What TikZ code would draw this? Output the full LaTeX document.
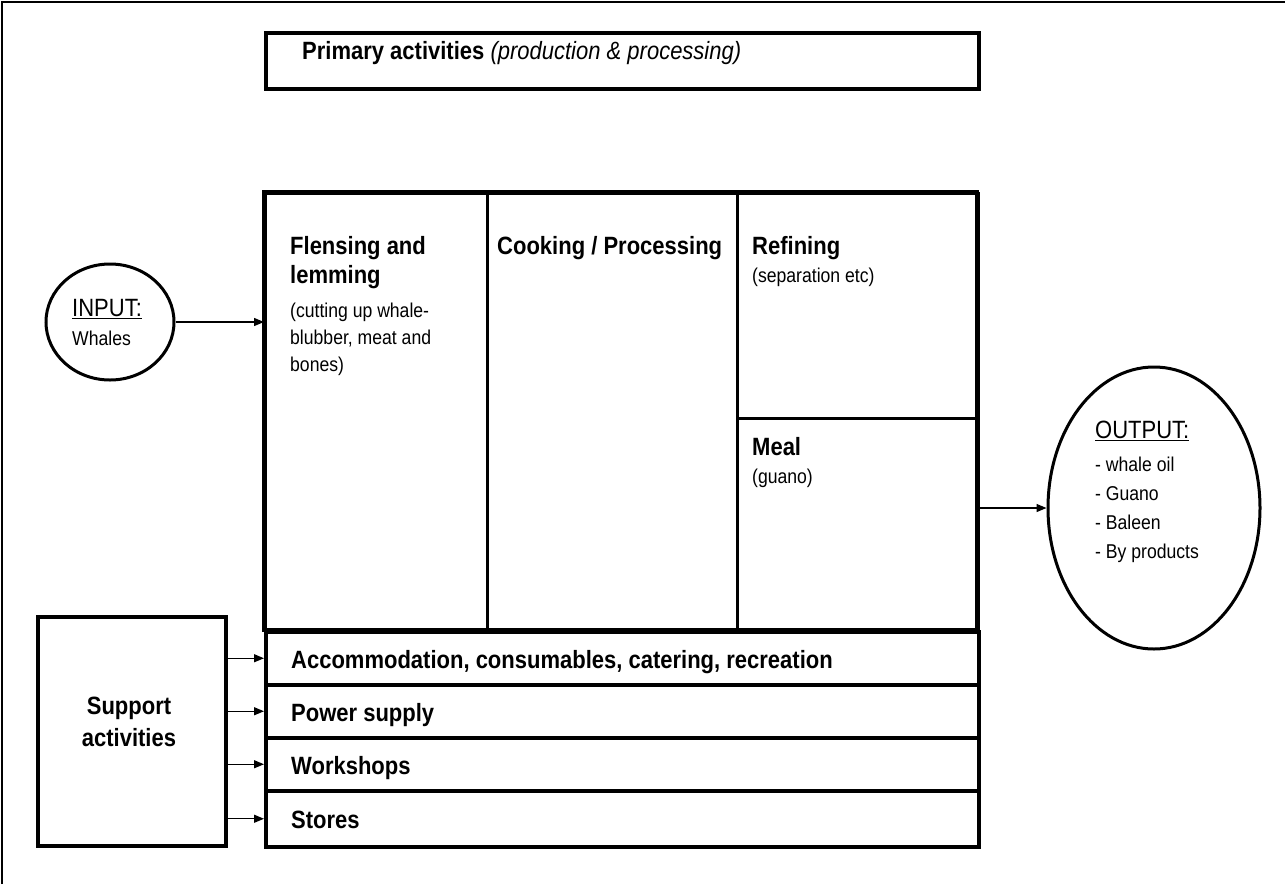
\documentclass[tikz,border=0pt]{standalone}
\usepackage{fontspec}
\setmainfont{Liberation Sans}[FakeStretch=0.88]
\usetikzlibrary{arrows.meta,shapes.geometric}

% font sizes used in the chart
\newcommand\headfont{\fontsize{25}{29}\selectfont\bfseries}
\newcommand\bigfont{\fontsize{25}{29}\selectfont}
\newcommand\notefont{\fontsize{20}{27}\selectfont}

\tikzset{
  cell/.style={draw, rectangle, line width=3.5pt, inner sep=0pt, anchor=north west},
  blob/.style={draw, ellipse, line width=3pt, inner sep=0pt},
  lbl/.style={inner sep=0pt, anchor=north west, align=left},
  head/.style={lbl, font=\headfont},
  note/.style={lbl, font=\notefont},
  arr/.style={line width=1.3pt, -{Triangle[length=10pt,width=8pt]}}
}

\begin{document}
\begin{tikzpicture}[x=1pt,y=-1pt]
\useasboundingbox (0,0) rectangle (1285,884);

% page frame (left and top edges)
\draw[line width=2pt] (2,884) -- (2,1.5) -- (1285,1.5);

% heading bar
\node[cell, minimum width=713pt, minimum height=56pt] (prim) at (264,31) {};
\node[inner sep=0pt, anchor=base west, font=\bigfont] (primtxt) at (302,59)
  {\textbf{Primary activities} \textit{(production \& processing)}};

% primary activity cells
\node[cell, line width=3pt, minimum width=222pt, minimum height=438pt] (flens) at (264,192) {};
\node[cell, line width=3pt, minimum width=250pt, minimum height=438pt] (cook) at (486,192) {};
\node[cell, line width=3pt, minimum width=241pt, minimum height=225pt] (refine) at (736,192) {};
\node[cell, line width=3pt, minimum width=241pt, minimum height=213pt] (meal) at (736,417) {};
\draw[line width=4pt] (264,192) rectangle (977,630);

\node[head] (flenshd) at (290,236) {Flensing and\\lemming};
\node[note] (flensnt) at (290,303) {(cutting up whale-\\blubber, meat and\\bones)};
\node[head] (cookhd) at (497,236) {Cooking / Processing};
\node[head] (refinehd) at (752,236) {Refining};
\node[note] (refinent) at (752,268) {(separation etc)};
\node[head] (mealhd) at (752,437) {Meal};
\node[note] (mealnt) at (752,469) {(guano)};

% support rows
\node[cell, minimum width=713pt, minimum height=53pt] (accom) at (264,630) {};
\node[cell, minimum width=713pt, minimum height=53pt] (power) at (264,683) {};
\node[cell, minimum width=713pt, minimum height=53pt] (works) at (264,736) {};
\node[cell, minimum width=713pt, minimum height=56pt] (stores) at (264,789) {};

\node[inner sep=0pt, anchor=base west, font=\headfont] (accomtxt) at (291,668) {Accommodation, consumables, catering, recreation};
\node[inner sep=0pt, anchor=base west, font=\headfont] (powertxt) at (291,721) {Power supply};
\node[inner sep=0pt, anchor=base west, font=\headfont] (workstxt) at (291,774) {Workshops};
\node[inner sep=0pt, anchor=base west, font=\headfont] (storestxt) at (291,828) {Stores};

% support activities box
\node[cell, minimum width=188pt, minimum height=229pt] (sup) at (36,615) {};
\node[inner sep=0pt, align=center, anchor=north, font={\fontsize{25}{32}\selectfont\bfseries}] (suptxt) at (129,697)
  {Support\\activities};

% input and output
\node[blob, minimum width=128pt, minimum height=116pt] (inp) at (110,322) {};
\node[lbl, font=\bigfont] (inptxt) at (72,299) {\underline{INPUT:}};
\node[note] (inpnt) at (72,331) {Whales};

\node[blob, minimum width=212pt, minimum height=282pt] (outp) at (1154,508) {};
\node[lbl, font=\bigfont] (outtxt) at (1095,421) {\underline{OUTPUT:}};
\node[lbl, font={\fontsize{20}{29}\selectfont}] (outlist) at (1095,457) {- whale oil\\- Guano\\- Baleen\\- By products};

% connectors
\draw[arr] (inp.east) -- (inp.east -| flens.west);
\draw[arr] (outp.west -| meal.east) -- (outp.west);
\draw[arr] (accom.west -| sup.east) -- (accom.west);
\draw[arr] (power.west -| sup.east) -- (power.west);
\draw[arr] (works.west -| sup.east) -- (works.west);
\draw[arr] (stores.west -| sup.east) -- (stores.west);
\end{tikzpicture}
\end{document}
